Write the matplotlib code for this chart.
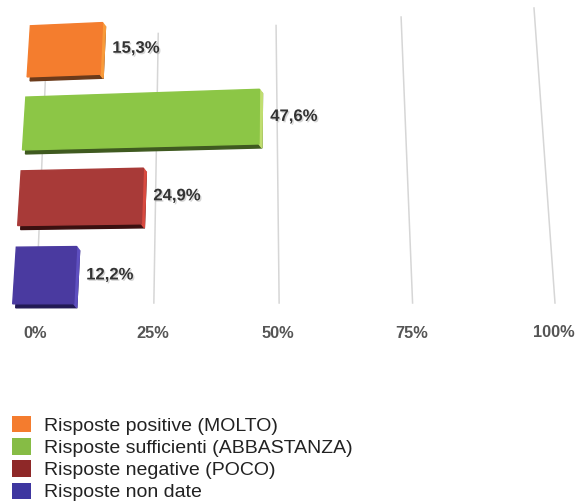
import numpy as np
import matplotlib

matplotlib.use("Agg")
import matplotlib.pyplot as plt
import matplotlib.transforms as mtransforms
from matplotlib.patches import Polygon, Patch
import matplotlib.patheffects as pe

plt.rcParams["font.family"] = ["Liberation Sans", "DejaVu Sans"]

# survey answers, bottom bar first
labels = [
    "Risposte non date",
    "Risposte negative (POCO)",
    "Risposte sufficienti (ABBASTANZA)",
    "Risposte positive (MOLTO)",
]
values = [12.2, 24.9, 47.6, 15.3]
value_text = ["12,2%", "24,9%", "47,6%", "15,3%"]
ticks = [0, 25, 50, 75, 100]
tick_text = ["0%", "25%", "50%", "75%", "100%"]

front = ["#4a3aa0", "#a83a38", "#8cc646", "#f47d2e"]
side = ["#5e4fc0", "#d84a40", "#c0de70", "#f89a3a"]
under = ["#221a55", "#3a1010", "#3f5a20", "#6b3a1a"]
legend_colors = ["#3e36a0", "#8e2828", "#86bc45", "#f47c2e"]

W, H = 586, 503
HALF = 0.36  # half bar thickness, in category units


def homography(src, dst):
    """3x3 matrix mapping the four src points onto the four dst points."""
    A, b = [], []
    for (x, y), (X, Y) in zip(src, dst):
        A.append([x, y, 1, 0, 0, 0, -X * x, -X * y])
        A.append([0, 0, 0, x, y, 1, -Y * x, -Y * y])
        b += [X, Y]
    h = np.linalg.solve(np.array(A, float), np.array(b, float))
    return np.append(h, 1.0).reshape(3, 3)


class Perspective(mtransforms.Transform):
    input_dims = output_dims = 2

    def __init__(self, M):
        super().__init__()
        self.M = M

    def transform_non_affine(self, pts):
        pts = np.atleast_2d(np.asarray(pts, float))
        p = np.column_stack([pts, np.ones(len(pts))]) @ self.M.T
        return p[:, :2] / p[:, 2:]


fig = plt.figure(figsize=(W / 100, H / 100), dpi=100)
ax = fig.add_axes([0, 0, 1, 1])
ax.set_xlim(0, W)
ax.set_ylim(H, 0)
ax.axis("off")

# back wall (grid lines) and the plane the bar fronts sit in
unit = [(0, 0), (100, 0), (0, 1), (100, 1)]
wall = Perspective(homography(unit, [(36, 303), (555, 303), (47, 41), (534, 8)])) + ax.transData
bar_src = [(0, -0.5), (100, -0.5), (0, 3.5), (100, 3.5)]
bars = Perspective(homography(bar_src, [(12, 315), (550, 315), (31, 16), (532, -7)])) + ax.transData

for t, txt in zip(ticks, tick_text):
    ax.plot([t, t], [0, 1], color="#d6d6d6", lw=1.1, transform=wall, zorder=1)
    ax.text(t, 0, txt, transform=mtransforms.offset_copy(wall, fig, x=-1, y=-30, units="dots"),
            ha="center", va="center", fontsize=11.8, fontweight="bold", color="#555555")

back = mtransforms.offset_copy(bars, fig, x=3, y=-4, units="dots")
for i, v in enumerate(values):
    lo, hi = i - HALF, i + HALF
    face = [(0, lo), (v, lo), (v, hi), (0, hi)]
    ax.add_patch(Polygon(face, closed=True, transform=back, color=under[i], zorder=2))
    # right end of the box: front edge joined to the shifted edge
    p = bars.transform([(v, lo), (v, hi)])
    q = back.transform([(v, hi), (v, lo)])
    ax.add_patch(Polygon(np.vstack([p, q]), closed=True, transform=None, color=side[i], zorder=3))
    ax.add_patch(Polygon(face, closed=True, transform=bars, color=front[i], zorder=4))
    ax.text(v, i, value_text[i], transform=mtransforms.offset_copy(bars, fig, x=11, y=0, units="dots"),
            ha="left", va="center", fontsize=12, fontweight="bold", color="#333333", zorder=5,
            path_effects=[pe.withSimplePatchShadow(offset=(1, -1), shadow_rgbFace="#888888", alpha=0.35)])

handles = [Patch(facecolor=c, edgecolor="none") for c in legend_colors[::-1]]
fig.legend(handles, labels[::-1], loc="upper left", bbox_to_anchor=(12 / W, 1 - 416 / H),
           frameon=False, fontsize=14, handlelength=1.0, handleheight=0.92,
           labelspacing=0.17, handletextpad=0.62, borderpad=0, borderaxespad=0,
           labelcolor="#222222")

fig.savefig("out.png", dpi=100)
